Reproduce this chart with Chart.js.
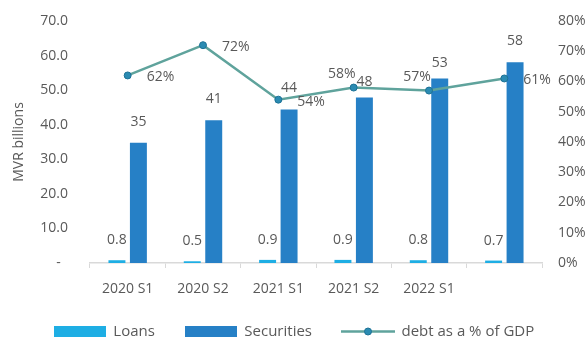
<!DOCTYPE html>
<html>
<head>
<meta charset="utf-8">
<script src="https://cdn.jsdelivr.net/npm/chart.js@4.4.1/dist/chart.umd.min.js"></script>
<style>
  html, body { margin: 0; padding: 0; background: #fff; overflow: hidden; }
  #wrap { width: 588px; height: 349px; }
</style>
</head>
<body>
<div id="wrap"><canvas id="debtChart"></canvas></div>
<script>
const periods = ['2020 S1', '2020 S2', '2021 S1', '2021 S2', '2022 S1', ''];
const loans = [0.8, 0.5, 0.9, 0.9, 0.8, 0.7];
const securities = [34.8, 41.3, 44.4, 47.9, 53.4, 58.1];
const debtPctGdp = [62, 72, 54, 58, 57, 61];

const TEXT = '#595959';
const LOANS_COLOR = '#1eaee4';
const SEC_COLOR = '#2680c6';
const LINE_COLOR = '#5fa39c';

Chart.defaults.font.family = "'Open Sans', 'Noto Sans', sans-serif";
Chart.defaults.font.size = 14;
Chart.defaults.color = TEXT;

// little swatches for the legend
function swatch(w, h, draw) {
  const c = document.createElement('canvas');
  c.width = w;
  c.height = h;
  draw(c.getContext('2d'));
  return c;
}
const legendIcons = [
  swatch(52, 11, g => { g.fillStyle = LOANS_COLOR; g.fillRect(0, 0, 52, 11); }),
  swatch(52, 11, g => { g.fillStyle = SEC_COLOR; g.fillRect(0, 0, 52, 11); }),
  swatch(54, 11, g => {
    g.strokeStyle = LINE_COLOR;
    g.lineWidth = 2.5;
    g.beginPath(); g.moveTo(0, 5.5); g.lineTo(54, 5.5); g.stroke();
    g.fillStyle = '#2b8bb2';
    g.strokeStyle = '#1d7296';
    g.lineWidth = 1;
    g.beginPath(); g.arc(27, 5.5, 3.5, 0, Math.PI * 2); g.fill(); g.stroke();
  })
];

// value labels next to bars and points
const valueLabels = {
  id: 'valueLabels',
  afterDatasetsDraw(chart, args, opts) {
    const ctx = chart.ctx;
    ctx.save();
    ctx.font = "14px 'Open Sans', 'Noto Sans', sans-serif";
    ctx.fillStyle = TEXT;
    ctx.textBaseline = 'middle';
    chart.data.datasets.forEach((ds, di) => {
      const meta = chart.getDatasetMeta(di);
      meta.data.forEach((el, i) => {
        const v = ds.data[i];
        if (ds.type === 'line') {
          const place = opts.linePlace[i];
          if (place === 'right') {
            ctx.textAlign = 'left';
            ctx.fillText(v + '%', el.x + 19, el.y + 2);
          } else {
            ctx.textAlign = 'center';
            ctx.fillText(v + '%', el.x - 12, el.y - 14);
          }
        } else {
          const raise = opts.raise[ds.label][i];
          ctx.textAlign = 'center';
          ctx.fillText(v.toFixed(ds.label === 'Loans' ? 1 : 0), el.x, el.y - raise);
        }
      });
    });
    ctx.restore();
  }
};

new Chart(document.getElementById('debtChart'), {
  type: 'bar',
  data: {
    labels: periods,
    datasets: [
      {
        label: 'Loans',
        data: loans,
        backgroundColor: LOANS_COLOR,
        yAxisID: 'y',
        order: 1,
        categoryPercentage: 0.57,
        barPercentage: 0.79
      },
      {
        label: 'Securities',
        data: securities,
        backgroundColor: SEC_COLOR,
        yAxisID: 'y',
        order: 1,
        categoryPercentage: 0.57,
        barPercentage: 0.79
      },
      {
        type: 'line',
        label: 'debt as a % of GDP',
        data: debtPctGdp,
        yAxisID: 'y1',
        order: 0,
        borderColor: LINE_COLOR,
        borderWidth: 2.5,
        pointRadius: 3.5,
        pointBackgroundColor: '#2b8bb2',
        pointBorderColor: '#1d7296',
        pointBorderWidth: 1,
        tension: 0
      }
    ]
  },
  options: {
    responsive: true,
    maintainAspectRatio: false,
    animation: false,
    layout: { padding: { top: 21, left: 0, right: 0, bottom: 0 } },
    plugins: {
      tooltip: { enabled: false },
      legend: {
        position: 'bottom',
        labels: {
          usePointStyle: true,
          pointStyleWidth: 52,
          boxHeight: 11,
          padding: 30,
          color: TEXT,
          font: { size: 15 },
          generateLabels(chart) {
            const items = Chart.defaults.plugins.legend.labels.generateLabels(chart);
            items.sort((a, b) => a.datasetIndex - b.datasetIndex);
            items.forEach(it => { it.pointStyle = legendIcons[it.datasetIndex]; });
            return items;
          }
        }
      },
      valueLabels: {
        linePlace: ['right', 'right', 'right', 'above', 'above', 'right'],
        raise: {
          Loans: [20, 20, 20, 20, 20, 20],
          Securities: [21, 21, 21, 15, 15, 21]
        }
      }
    },
    scales: {
      x: {
        offset: true,
        grid: {
          display: true,
          offset: true,
          drawOnChartArea: false,
          drawTicks: true,
          tickLength: 5,
          color: '#d9d9d9'
        },
        border: { color: '#d9d9d9', width: 1.5 },
        ticks: { padding: 13, color: TEXT },
        afterFit(scale) { scale.height = 31; }
      },
      y: {
        position: 'left',
        min: 0,
        max: 70,
        // tick marks stay hidden; their length only spaces the labels
        grid: { display: false, drawTicks: true, tickLength: 18 },
        border: { display: false },
        ticks: {
          stepSize: 10,
          padding: 4,
          color: TEXT,
          callback: v => (v === 0 ? '-  ' : v.toFixed(1))
        },
        title: {
          display: true,
          text: 'MVR billions',
          color: TEXT,
          font: { size: 14 },
          padding: { top: 11, bottom: 0 }
        },
        afterFit(scale) { scale.width = 90; }
      },
      y1: {
        position: 'right',
        min: 0,
        max: 80,
        grid: { display: false, drawTicks: true, tickLength: 12 },
        border: { display: false },
        ticks: {
          stepSize: 10,
          padding: 4,
          color: TEXT,
          callback: v => v + '%'
        },
        afterFit(scale) { scale.width = 46; }
      }
    }
  },
  plugins: [valueLabels]
});
</script>
</body>
</html>
